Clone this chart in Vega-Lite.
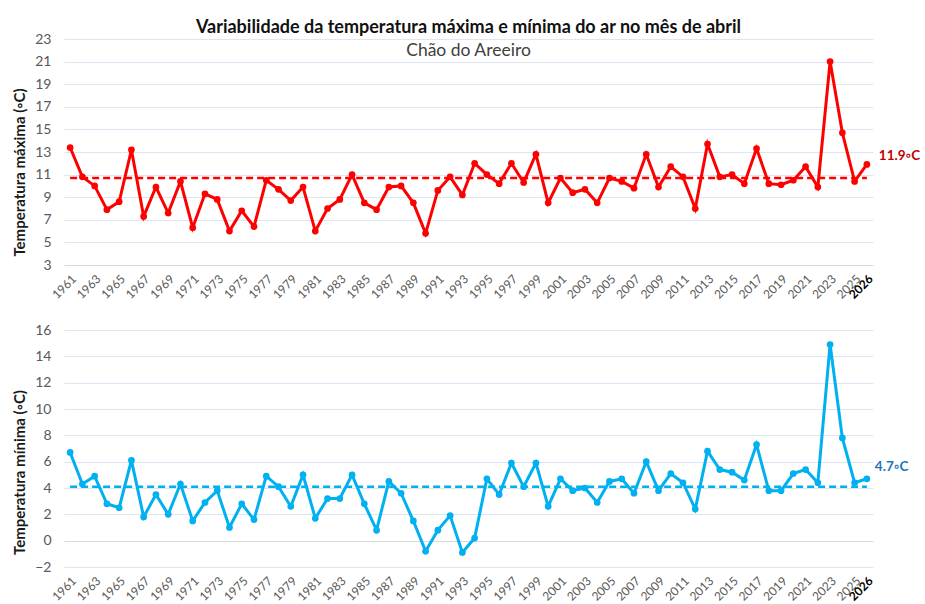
{
  "$schema": "https://vega.github.io/schema/vega-lite/v6.json",
  "padding": {"left": 12, "top": 18, "right": 3, "bottom": 2},
  "background": "white",
  "config": {"font": "Lato", "view": {"stroke": null}, "concat": {"spacing": 22}},
  "datasets": {
    "tmax": [
      {"year": 1961, "value": 13.4}, {"year": 1962, "value": 10.8}, {"year": 1963, "value": 10.0}, {"year": 1964, "value": 7.9},
      {"year": 1965, "value": 8.6}, {"year": 1966, "value": 13.2}, {"year": 1967, "value": 7.3}, {"year": 1968, "value": 9.9},
      {"year": 1969, "value": 7.6}, {"year": 1970, "value": 10.4}, {"year": 1971, "value": 6.3}, {"year": 1972, "value": 9.3},
      {"year": 1973, "value": 8.8}, {"year": 1974, "value": 6.0}, {"year": 1975, "value": 7.8}, {"year": 1976, "value": 6.4},
      {"year": 1977, "value": 10.5}, {"year": 1978, "value": 9.7}, {"year": 1979, "value": 8.7}, {"year": 1980, "value": 9.9},
      {"year": 1981, "value": 6.0}, {"year": 1982, "value": 8.0}, {"year": 1983, "value": 8.8}, {"year": 1984, "value": 11.0},
      {"year": 1985, "value": 8.5}, {"year": 1986, "value": 7.9}, {"year": 1987, "value": 9.9}, {"year": 1988, "value": 10.0},
      {"year": 1989, "value": 8.5}, {"year": 1990, "value": 5.8}, {"year": 1991, "value": 9.6}, {"year": 1992, "value": 10.8},
      {"year": 1993, "value": 9.2}, {"year": 1994, "value": 12.0}, {"year": 1995, "value": 11.0}, {"year": 1996, "value": 10.2},
      {"year": 1997, "value": 12.0}, {"year": 1998, "value": 10.3}, {"year": 1999, "value": 12.8}, {"year": 2000, "value": 8.5},
      {"year": 2001, "value": 10.7}, {"year": 2002, "value": 9.4}, {"year": 2003, "value": 9.7}, {"year": 2004, "value": 8.5},
      {"year": 2005, "value": 10.7}, {"year": 2006, "value": 10.4}, {"year": 2007, "value": 9.8}, {"year": 2008, "value": 12.8},
      {"year": 2009, "value": 9.9}, {"year": 2010, "value": 11.7}, {"year": 2011, "value": 10.8}, {"year": 2012, "value": 8.0},
      {"year": 2013, "value": 13.7}, {"year": 2014, "value": 10.8}, {"year": 2015, "value": 11.0}, {"year": 2016, "value": 10.2},
      {"year": 2017, "value": 13.3}, {"year": 2018, "value": 10.2}, {"year": 2019, "value": 10.1}, {"year": 2020, "value": 10.5},
      {"year": 2021, "value": 11.7}, {"year": 2022, "value": 9.9}, {"year": 2023, "value": 21.0}, {"year": 2024, "value": 14.7},
      {"year": 2025, "value": 10.4}, {"year": 2026, "value": 11.9}
    ],
    "tmin": [
      {"year": 1961, "value": 6.7}, {"year": 1962, "value": 4.3}, {"year": 1963, "value": 4.9}, {"year": 1964, "value": 2.8},
      {"year": 1965, "value": 2.5}, {"year": 1966, "value": 6.1}, {"year": 1967, "value": 1.8}, {"year": 1968, "value": 3.5},
      {"year": 1969, "value": 2.0}, {"year": 1970, "value": 4.3}, {"year": 1971, "value": 1.5}, {"year": 1972, "value": 2.9},
      {"year": 1973, "value": 3.8}, {"year": 1974, "value": 1.0}, {"year": 1975, "value": 2.8}, {"year": 1976, "value": 1.6},
      {"year": 1977, "value": 4.9}, {"year": 1978, "value": 4.1}, {"year": 1979, "value": 2.6}, {"year": 1980, "value": 5.0},
      {"year": 1981, "value": 1.7}, {"year": 1982, "value": 3.2}, {"year": 1983, "value": 3.2}, {"year": 1984, "value": 5.0},
      {"year": 1985, "value": 2.8}, {"year": 1986, "value": 0.8}, {"year": 1987, "value": 4.5}, {"year": 1988, "value": 3.6},
      {"year": 1989, "value": 1.5}, {"year": 1990, "value": -0.8}, {"year": 1991, "value": 0.8}, {"year": 1992, "value": 1.9},
      {"year": 1993, "value": -0.9}, {"year": 1994, "value": 0.2}, {"year": 1995, "value": 4.7}, {"year": 1996, "value": 3.5},
      {"year": 1997, "value": 5.9}, {"year": 1998, "value": 4.1}, {"year": 1999, "value": 5.9}, {"year": 2000, "value": 2.6},
      {"year": 2001, "value": 4.7}, {"year": 2002, "value": 3.8}, {"year": 2003, "value": 4.0}, {"year": 2004, "value": 2.9},
      {"year": 2005, "value": 4.5}, {"year": 2006, "value": 4.7}, {"year": 2007, "value": 3.6}, {"year": 2008, "value": 6.0},
      {"year": 2009, "value": 3.8}, {"year": 2010, "value": 5.1}, {"year": 2011, "value": 4.4}, {"year": 2012, "value": 2.4},
      {"year": 2013, "value": 6.8}, {"year": 2014, "value": 5.4}, {"year": 2015, "value": 5.2}, {"year": 2016, "value": 4.6},
      {"year": 2017, "value": 7.3}, {"year": 2018, "value": 3.8}, {"year": 2019, "value": 3.8}, {"year": 2020, "value": 5.1},
      {"year": 2021, "value": 5.4}, {"year": 2022, "value": 4.4}, {"year": 2023, "value": 14.9}, {"year": 2024, "value": 7.8},
      {"year": 2025, "value": 4.4}, {"year": 2026, "value": 4.7}
    ],
    "tmaxMean": [{"year": 1961, "year2": 2026, "value": 10.7}],
    "tminMean": [{"year": 1961, "year2": 2026, "value": 4.1}],
    "tmaxLabel": [{"year": 2026, "value": 11.9, "label": "11.9◦C"}],
    "tminLabel": [{"year": 2026, "value": 4.7, "label": "4.7◦C"}]
  },
  "vconcat": [
    {
      "width": 809,
      "height": 226,
      "title": {
        "text": "Variabilidade da temperatura máxima e mínima do ar no mês de abril",
        "subtitle": "Chão do Areeiro",
        "anchor": "middle",
        "fontSize": 18,
        "fontWeight": "bold",
        "color": "#111111",
        "subtitleFontSize": 17.5,
        "subtitleColor": "#404040",
        "subtitlePadding": 5,
        "offset": -27
      },
      "encoding": {
        "x": {
          "field": "year",
          "type": "ordinal",
          "scale": {"type": "point", "padding": 0.5},
          "axis": {
            "title": null,
            "labelAngle": -45,
            "labelExpr": "datum.value % 2 == 1 || datum.value == 2026 ? datum.label : ''",
            "labelFontWeight": {"condition": {"test": "datum.value == 2026", "value": "bold"}, "value": "normal"},
            "labelColor": {"condition": {"test": "datum.value == 2026", "value": "#000000"}, "value": "#595959"},
            "labelFontSize": 12,
            "labelPadding": 8,
            "labelOverlap": false,
            "ticks": false,
            "domain": false,
            "grid": false
          }
        },
        "y": {
          "field": "value",
          "type": "quantitative",
          "scale": {"domain": [3, 23], "nice": false, "zero": false},
          "axis": {
            "values": [3, 5, 7, 9, 11, 13, 15, 17, 19, 21, 23],
            "title": "Temperatura máxima (◦C)",
            "titleFontSize": 15,
            "titleFontWeight": "bold",
            "titleColor": "#1a1a1a",
            "titleY": 133,
            "titlePadding": 7,
            "labelFontSize": 14,
            "labelColor": "#595959",
            "labelPadding": 13,
            "ticks": false,
            "domain": false,
            "gridColor": {"condition": {"test": "datum.value == 3", "value": "#D9D9D9"}, "value": "#DCE6F2"},
            "gridWidth": 1
          }
        }
      },
      "layer": [
        {
          "data": {"name": "tmaxMean"},
          "mark": {"type": "rule", "color": "#FF0000", "strokeDash": [7, 4], "strokeWidth": 2.5},
          "encoding": {"x2": {"field": "year2"}}
        },
        {
          "data": {"name": "tmax"},
          "mark": {"type": "line", "color": "#FF0000", "strokeWidth": 3, "point": {"filled": true, "size": 45, "color": "#FF0000", "opacity": 1}}
        },
        {
          "data": {"name": "tmaxLabel"},
          "mark": {"type": "text", "align": "left", "baseline": "middle", "dx": 12, "dy": -8, "fontWeight": "bold", "fontSize": 13.5, "color": "#C00000"},
          "encoding": {"text": {"field": "label"}}
        }
      ]
    },
    {
      "width": 809,
      "height": 237,
      "encoding": {
        "x": {
          "field": "year",
          "type": "ordinal",
          "scale": {"type": "point", "padding": 0.5},
          "axis": {
            "title": null,
            "labelAngle": -45,
            "labelExpr": "datum.value % 2 == 1 || datum.value == 2026 ? datum.label : ''",
            "labelFontWeight": {"condition": {"test": "datum.value == 2026", "value": "bold"}, "value": "normal"},
            "labelColor": {"condition": {"test": "datum.value == 2026", "value": "#000000"}, "value": "#595959"},
            "labelFontSize": 12,
            "labelPadding": 8,
            "labelOverlap": false,
            "ticks": false,
            "domain": false,
            "grid": false
          }
        },
        "y": {
          "field": "value",
          "type": "quantitative",
          "scale": {"domain": [-2, 16], "nice": false, "zero": false},
          "axis": {
            "values": [-2, 0, 2, 4, 6, 8, 10, 12, 14, 16],
            "title": "Temperatura mínima (◦C)",
            "titleFontSize": 15,
            "titleFontWeight": "bold",
            "titleColor": "#1a1a1a",
            "titleY": 142,
            "titlePadding": 7,
            "labelFontSize": 14,
            "labelColor": "#595959",
            "labelPadding": 13,
            "ticks": false,
            "domain": false,
            "gridColor": {"condition": {"test": "datum.value == 0", "value": "#D9D9D9"}, "value": "#DCE6F2"},
            "gridWidth": 1
          }
        }
      },
      "layer": [
        {
          "data": {"name": "tminMean"},
          "mark": {"type": "rule", "color": "#00B0F0", "strokeDash": [7, 4], "strokeWidth": 2.5},
          "encoding": {"x2": {"field": "year2"}}
        },
        {
          "data": {"name": "tmin"},
          "mark": {"type": "line", "color": "#00B0F0", "strokeWidth": 3, "point": {"filled": true, "size": 45, "color": "#00B0F0", "opacity": 1}}
        },
        {
          "data": {"name": "tminLabel"},
          "mark": {"type": "text", "align": "left", "baseline": "middle", "dx": 8, "dy": -12, "fontWeight": "bold", "fontSize": 13.5, "color": "#1C75BC"},
          "encoding": {"text": {"field": "label"}}
        }
      ]
    }
  ]
}
